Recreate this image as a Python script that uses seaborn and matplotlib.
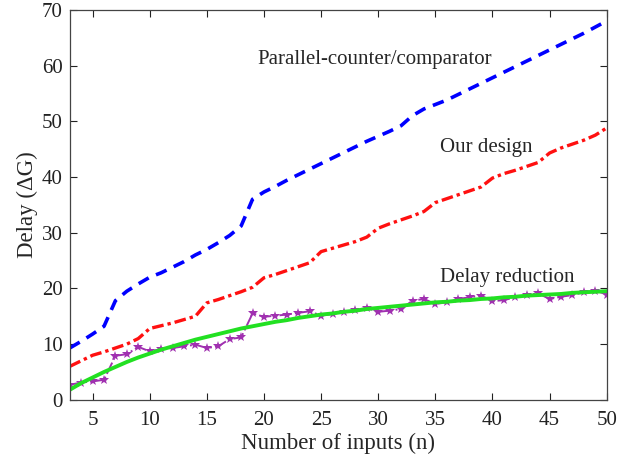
import numpy as np
import pandas as pd
import matplotlib
matplotlib.use('Agg')
import matplotlib.pyplot as plt
import seaborn as sns

# number of inputs n = 3..50
n_inputs = list(range(3, 51))

parallel_counter = [9.3, 10.5, 11.8, 13.2, 17.8, 19.5, 20.8, 22.0, 22.8, 23.8,
                    24.8, 26.0, 27.0, 28.2, 29.5, 31.2, 36.0, 37.3, 38.3, 39.4,
                    40.4, 41.4, 42.4, 43.4, 44.4, 45.4, 46.4, 47.3, 48.2, 49.2,
                    51.0, 52.2, 53.0, 53.8, 54.8, 55.8, 56.8, 57.8, 58.8, 59.8,
                    60.8, 61.8, 62.8, 63.8, 64.8, 65.8, 66.9, 68.0]

our_design = [6.0, 7.0, 8.0, 8.6, 9.3, 10.0, 11.0, 12.8, 13.3, 13.8,
              14.4, 15.0, 17.4, 18.0, 18.7, 19.4, 20.2, 21.9, 22.5, 23.2,
              23.9, 24.6, 26.6, 27.2, 27.8, 28.4, 29.2, 30.8, 31.6, 32.3,
              33.0, 33.8, 35.4, 36.1, 36.8, 37.5, 38.2, 39.8, 40.6, 41.2,
              41.9, 42.6, 44.3, 45.2, 45.9, 46.6, 47.5, 48.8]

delay_reduction = [2.7, 3.1, 3.3, 3.6, 7.9, 8.2, 9.5, 8.7, 9.1, 9.3,
                   9.6, 9.9, 9.3, 9.6, 10.9, 11.2, 15.5, 14.9, 15.1, 15.3,
                   15.6, 15.9, 15.1, 15.4, 15.7, 16.1, 16.5, 15.8, 16.0, 16.3,
                   17.8, 18.1, 17.2, 17.5, 18.1, 18.4, 18.7, 17.7, 17.9, 18.4,
                   18.8, 19.1, 18.1, 18.5, 18.8, 19.3, 19.6, 18.9]

reduction_fit = [1.8, 3.0, 4.0, 5.0, 5.9, 6.8, 7.6, 8.3, 9.0, 9.6,
                 10.2, 10.8, 11.3, 11.8, 12.3, 12.8, 13.2, 13.6, 14.0, 14.3,
                 14.7, 15.0, 15.3, 15.5, 15.8, 16.0, 16.3, 16.5, 16.7, 16.9,
                 17.1, 17.3, 17.5, 17.6, 17.8, 17.9, 18.1, 18.2, 18.4, 18.5,
                 18.7, 18.8, 18.9, 19.0, 19.2, 19.3, 19.4, 19.5]

x_ticks = [5, 10, 15, 20, 25, 30, 35, 40, 45, 50]
y_ticks = [0, 10, 20, 30, 40, 50, 60, 70]

df = pd.DataFrame({
    'n': n_inputs,
    'parallel': parallel_counter,
    'ours': our_design,
    'reduction': delay_reduction,
    'fit': reduction_fit,
})

sns.set_style('ticks')
plt.rcParams['font.family'] = ['Liberation Serif', 'DejaVu Serif']

fig = plt.figure(figsize=(6.34, 4.66), dpi=100)
ax = fig.add_axes([0.110, 0.142, 0.847, 0.837])

sns.lineplot(data=df, x='n', y='parallel', ax=ax, color='#0000ff',
             linewidth=2.6, linestyle=(0, (3.2, 2.2)))
sns.lineplot(data=df, x='n', y='ours', ax=ax, color='#ff1010',
             linewidth=2.4, linestyle=(0, (3.5, 1.2, 1.0, 1.2)))
sns.lineplot(data=df, x='n', y='reduction', ax=ax, color='#a030b0',
             linewidth=1.4, linestyle='-.', marker='*', markersize=7.5,
             markeredgewidth=0)
sns.lineplot(data=df, x='n', y='fit', ax=ax, color='#22e022',
             linewidth=2.8)

ax.set_xlim(3, 50)
ax.set_ylim(0, 70)
ax.set_xticks(x_ticks)
ax.set_yticks(y_ticks)
ax.tick_params(direction='in', top=True, right=True, length=5, width=0.8,
               labelsize=15, colors='#222222')
ax.tick_params(axis='x', pad=8)
ax.tick_params(axis='y', pad=5)
for s in ax.spines.values():
    s.set_color('#444444')
    s.set_linewidth(0.9)

ax.set_xlabel('Number of inputs (n)', fontsize=16.5, labelpad=2)
ax.set_ylabel('Delay (ΔG)', fontsize=16.5, labelpad=3)

ax.text(19.4, 61, 'Parallel-counter/comparator', fontsize=15, va='center')
ax.text(35.4, 45.2, 'Our design', fontsize=15, va='center')
ax.text(35.4, 22.0, 'Delay reduction', fontsize=15, va='center')

fig.savefig('out.png', dpi=100)
